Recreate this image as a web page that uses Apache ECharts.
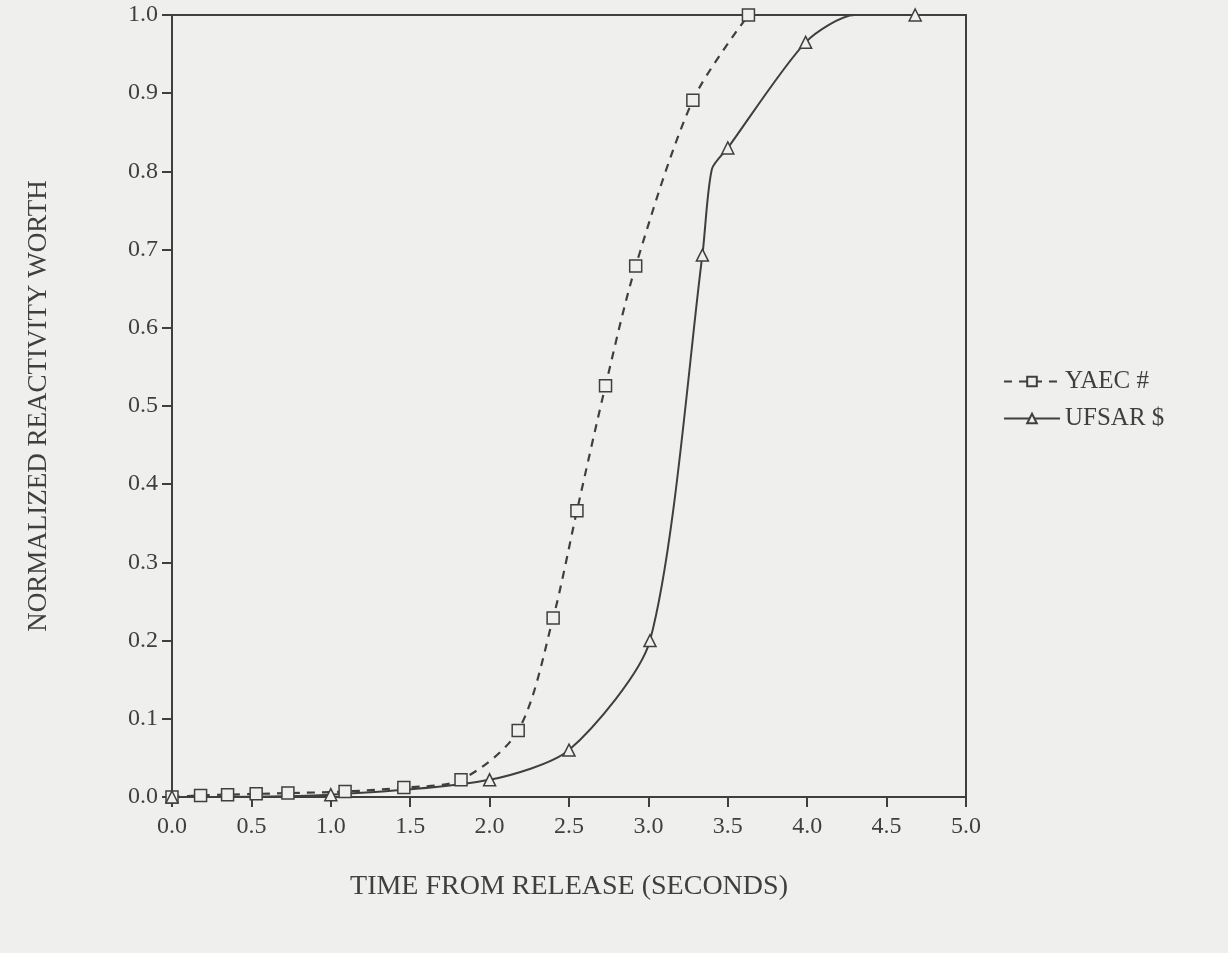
<!DOCTYPE html>
<html>
<head>
<meta charset="utf-8">
<script src="https://cdn.jsdelivr.net/npm/echarts@6/dist/echarts.min.js"></script>
<style>
html,body{margin:0;padding:0;background:#efefed;}
#chart{width:1228px;height:953px;}
</style>
</head>
<body>
<div id="chart"></div>
<script>
// Data
var seriesNames = ['YAEC #', 'UFSAR $'];
var yaecX = [0.0, 0.18, 0.35, 0.53, 0.73, 1.09, 1.46, 1.82, 2.18, 2.40, 2.55, 2.73, 2.92, 3.28, 3.63];
var yaecY = [0.0, 0.002, 0.003, 0.004, 0.005, 0.007, 0.012, 0.022, 0.085, 0.229, 0.366, 0.526, 0.679, 0.891, 1.0];
var ufsarX = [0.0, 1.0, 2.0, 2.5, 3.01, 3.34, 3.40, 3.50, 3.99, 4.30, 4.68];
var ufsarY = [0.0, 0.003, 0.022, 0.06, 0.2, 0.693, 0.803, 0.83, 0.965, 1.0, 1.0];
var ufsarMarked = [true, true, true, true, true, true, false, true, true, false, true];
var xTitle = 'TIME FROM RELEASE (SECONDS)';
var yTitle = 'NORMALIZED REACTIVITY WORTH';

var ink = '#3f3f3f';
var bg = '#efefed';
var serif = '"Liberation Serif", "DejaVu Serif", serif';

function pairs(xs, ys) { return xs.map(function (x, i) { return [x, ys[i]]; }); }

var ufsarData = ufsarX.map(function (x, i) {
  var d = { value: [x, ufsarY[i]] };
  if (!ufsarMarked[i]) d.symbol = 'none';
  return d;
});

var chart = echarts.init(document.getElementById('chart'), null, { renderer: 'canvas' });
chart.setOption({
  backgroundColor: bg,
  animation: false,
  grid: {
    left: 172, right: 262, top: 15, bottom: 156,
    show: true, borderColor: ink, borderWidth: 2, backgroundColor: 'transparent'
  },
  legend: {
    orient: 'vertical',
    left: 998, top: 364,
    itemGap: 12,
    itemWidth: 56, itemHeight: 12,
    textStyle: { fontFamily: serif, fontSize: 25, color: ink },
    data: seriesNames
  },
  xAxis: {
    type: 'value', min: 0, max: 5, interval: 0.5,
    name: xTitle, nameLocation: 'middle', nameGap: 76,
    nameTextStyle: { fontFamily: serif, fontSize: 28, color: ink },
    axisLine: { lineStyle: { color: ink, width: 2 } },
    axisTick: { show: true, inside: false, length: 10, lineStyle: { color: ink, width: 2 } },
    axisLabel: { fontFamily: serif, fontSize: 24, color: ink, margin: 18,
      formatter: function (v) { return v.toFixed(1); } },
    splitLine: { show: false }
  },
  yAxis: {
    type: 'value', min: 0, max: 1, interval: 0.1,
    name: yTitle, nameLocation: 'middle', nameGap: 120, nameRotate: 90,
    nameTextStyle: { fontFamily: serif, fontSize: 27, color: ink },
    axisLine: { lineStyle: { color: ink, width: 2 } },
    axisTick: { show: true, inside: false, length: 10, lineStyle: { color: ink, width: 2 } },
    axisLabel: { fontFamily: serif, fontSize: 24, color: ink, margin: 14,
      formatter: function (v) { return v.toFixed(1); } },
    splitLine: { show: false }
  },
  series: [
    {
      name: seriesNames[0], type: 'line', smooth: 0.3,
      data: pairs(yaecX, yaecY),
      symbol: 'rect', symbolSize: 12,
      itemStyle: { color: bg, borderColor: ink, borderWidth: 1.5 },
      lineStyle: { color: ink, width: 2.2, type: [8, 7] }
    },
    {
      name: seriesNames[1], type: 'line', smooth: 0.25,
      data: ufsarData,
      symbol: 'triangle', symbolSize: 12,
      itemStyle: { color: bg, borderColor: ink, borderWidth: 1.5 },
      lineStyle: { color: ink, width: 2 }
    }
  ]
});
</script>
</body>
</html>
